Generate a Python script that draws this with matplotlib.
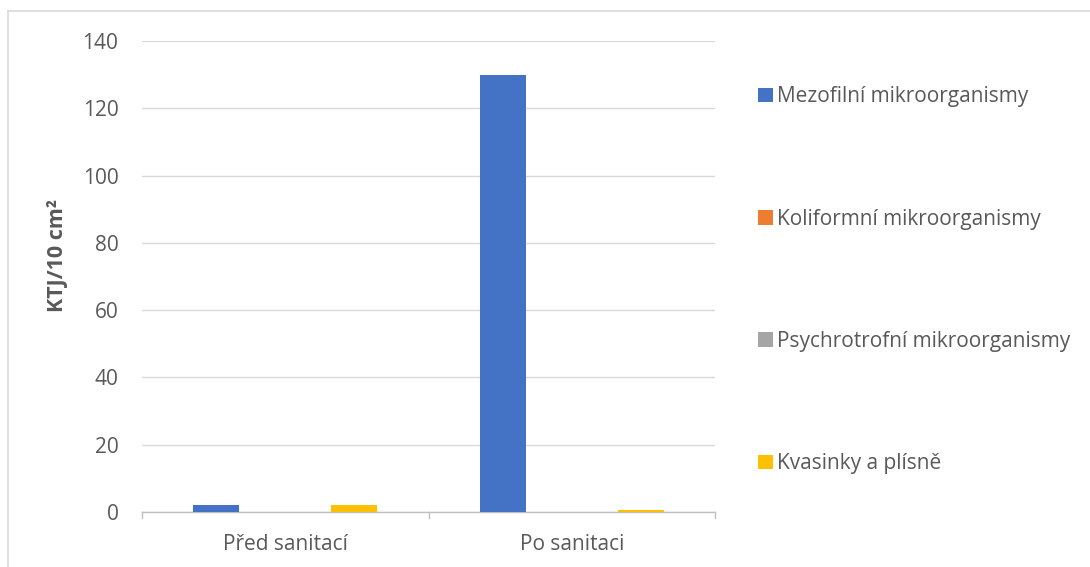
import matplotlib.pyplot as plt
import numpy as np
from matplotlib.lines import Line2D

# sampling points and organism groups
categories = ["Před sanitací", "Po sanitaci"]
series_names = [
    "Mezofilní mikroorganismy",
    "Koliformní mikroorganismy",
    "Psychrotrofní mikroorganismy",
    "Kvasinky a plísně",
]
mezofilni = [2, 130]
koliformni = [0, 0]
psychrotrofni = [0, 0]
kvasinky = [2.2, 0.7]
colors = ["#4472C4", "#ED7D31", "#A5A5A5", "#FFC000"]

plt.rcParams["font.family"] = ["Open Sans", "DejaVu Sans"]
text_color = "#595959"
fs = 15

fig = plt.figure(figsize=(10.9, 5.67), dpi=100)
ax = fig.add_axes([142 / 1090, 1 - 512 / 567, (715 - 142) / 1090, (512 - 41) / 567])

x = np.arange(len(categories))
width = 46 / 286.5
values = [mezofilni, koliformni, psychrotrofni, kvasinky]
for i, (name, vals, c) in enumerate(zip(series_names, values, colors)):
    offset = (i - 1.5) * width
    ax.bar(x + offset, vals, width, color=c, label=name, zorder=3)

ax.set_xlim(-0.5, 1.5)
ax.set_ylim(0, 140)
ax.set_yticks(range(0, 141, 20))
ax.yaxis.grid(True, color="#d9d9d9", linewidth=1, zorder=0)
ax.set_axisbelow(True)

for s in ["top", "right", "left"]:
    ax.spines[s].set_visible(False)
ax.spines["bottom"].set_color("#bfbfbf")
ax.spines["bottom"].set_linewidth(1)

ax.tick_params(axis="y", length=0, pad=17, labelsize=fs, labelcolor=text_color)
ax.set_xticks(x)
ax.set_xticklabels(categories)
ax.tick_params(axis="x", length=0, pad=16, labelsize=fs, labelcolor=text_color)
# category separators on the x axis
for b in [-0.5, 0.5, 1.5]:
    ax.plot([b, b], [0, -0.013], transform=ax.get_xaxis_transform(),
            color="#bfbfbf", linewidth=1, clip_on=False)

fig.text(58 / 1090, 1 - 256 / 567, "KTJ/10 cm²", rotation=90, ha="center",
         va="center", fontsize=15.5, fontweight="bold", color=text_color)

leg = ax.legend(loc="upper left", bbox_to_anchor=(750 / 1090, 1 - 78 / 567),
                bbox_transform=fig.transFigure, frameon=False, fontsize=fs,
                handlelength=0.7, handleheight=0.7, handletextpad=0.2,
                labelspacing=4.86, borderaxespad=0)
for t in leg.get_texts():
    t.set_color(text_color)

# outer chart frame (top and left edges)
fig.add_artist(Line2D([8 / 1090, 1], [1 - 11 / 567, 1 - 11 / 567],
                      transform=fig.transFigure, color="#d9d9d9", linewidth=1.2))
fig.add_artist(Line2D([8 / 1090, 8 / 1090], [0, 1 - 11 / 567],
                      transform=fig.transFigure, color="#d9d9d9", linewidth=1.2))

fig.savefig("out.png", dpi=100, facecolor="white")
